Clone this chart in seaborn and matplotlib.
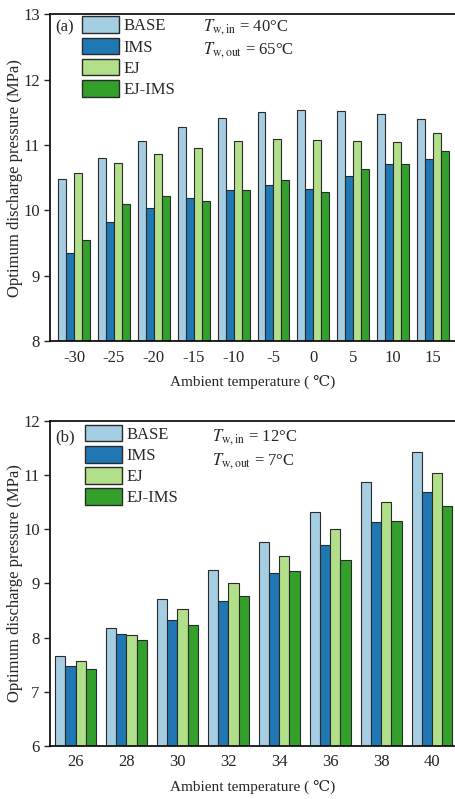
import matplotlib
matplotlib.use('Agg')
import matplotlib.pyplot as plt
import seaborn as sns
import pandas as pd

# data
cases = ['BASE', 'IMS', 'EJ', 'EJ-IMS']

temps_a = ['-30', '-25', '-20', '-15', '-10', '-5', '0', '5', '10', '15']
base_a = [10.48, 10.81, 11.07, 11.27, 11.42, 11.50, 11.53, 11.52, 11.47, 11.40]
ims_a = [9.35, 9.83, 10.03, 10.19, 10.31, 10.39, 10.33, 10.53, 10.71, 10.79]
ej_a = [10.57, 10.73, 10.87, 10.95, 11.07, 11.09, 11.08, 11.07, 11.04, 11.18]
ejims_a = [9.55, 10.10, 10.22, 10.15, 10.32, 10.46, 10.29, 10.64, 10.71, 10.91]

temps_b = ['26', '28', '30', '32', '34', '36', '38', '40']
base_b = [7.67, 8.18, 8.71, 9.24, 9.77, 10.31, 10.87, 11.42]
ims_b = [7.48, 8.06, 8.33, 8.67, 9.20, 9.70, 10.13, 10.68]
ej_b = [7.56, 8.05, 8.52, 9.01, 9.50, 10.01, 10.50, 11.03]
ejims_b = [7.42, 7.95, 8.23, 8.77, 9.23, 9.43, 10.15, 10.43]

sns.set_style('ticks')
plt.rcParams['font.family'] = ['Liberation Serif', 'DejaVu Serif', 'Noto Sans CJK SC']
plt.rcParams['mathtext.fontset'] = 'stix'

colors = sns.color_palette('Paired', 4)
fs = 12


def make_df(temps, series):
    rows = []
    for case, vals in zip(cases, series):
        for t, v in zip(temps, vals):
            rows.append({'temp': t, 'p': v, 'case': case})
    return pd.DataFrame(rows)


fig = plt.figure(figsize=(4.55, 7.99), dpi=100)
ax1 = fig.add_axes([0.110, 0.573, 0.89, 0.409])
ax2 = fig.add_axes([0.110, 0.0663, 0.89, 0.407])

panels = [
    (ax1, temps_a, [base_a, ims_a, ej_a, ejims_a], (8, 13), (-0.6, 9.55),
     '(a)', '40', '65', (0.079, 0.994), (0.378, 0.96, 0.89)),
    (ax2, temps_b, [base_b, ims_b, ej_b, ejims_b], (6, 12), (-0.5, 7.45),
     '(b)', '12', '7', (0.086, 0.988), (0.40, 0.95, 0.877)),
]

for ax, temps, series, ylim, xlim, tag, tin, tout, leg_xy, txt in panels:
    df = make_df(temps, series)
    sns.barplot(data=df, x='temp', y='p', hue='case', order=temps, hue_order=cases,
                palette=colors, saturation=1, edgecolor='#2a2a2a', linewidth=0.8,
                width=0.8, ax=ax)
    ax.set_ylim(*ylim)
    ax.set_xlim(*xlim)
    ax.set_yticks(range(ylim[0], ylim[1] + 1))
    ax.tick_params(axis='x', length=0, labelsize=fs, pad=6)
    ax.tick_params(axis='y', length=4, width=1, direction='out', labelsize=fs)
    for s in ['left', 'top', 'bottom']:
        ax.spines[s].set_linewidth(1.2)
        ax.spines[s].set_color('black')
    ax.spines['right'].set_visible(False)
    ax.set_xlabel('Ambient temperature ( ℃)', fontsize=11, labelpad=7)
    ax.set_ylabel('Optimum discharge pressure (MPa)', fontsize=12, labelpad=0)
    ax.text(0.012, txt[1], tag, transform=ax.transAxes, fontsize=fs, va='center')
    ax.text(txt[0], txt[1], r'$T_{\mathrm{w,in}}$ = ' + tin + '°C',
            transform=ax.transAxes, fontsize=fs, va='center')
    ax.text(txt[0], txt[2], r'$T_{\mathrm{w,out}}$ = ' + tout + '°C',
            transform=ax.transAxes, fontsize=fs, va='center')
    leg = ax.legend(loc='upper left', bbox_to_anchor=leg_xy, frameon=False,
                    borderpad=0, borderaxespad=0, handlelength=2.2,
                    handleheight=1.15, labelspacing=0.2, handletextpad=0.3,
                    fontsize=fs)
    for h in leg.legend_handles:
        h.set_edgecolor('#2a2a2a')
        h.set_linewidth(1.0)

fig.savefig('out.png', dpi=100)
